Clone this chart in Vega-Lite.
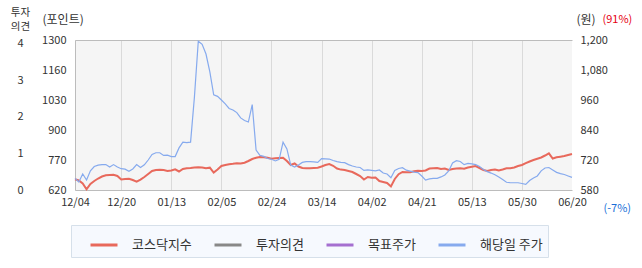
{
  "$schema": "https://vega.github.io/schema/vega-lite/v6.json",
  "autosize": {"type": "none"},
  "width": 497,
  "height": 150,
  "padding": {"left": 75, "top": 40, "right": 70, "bottom": 78},
  "background": "white",
  "config": {
    "font": "Noto Sans CJK KR",
    "view": {"fill": "#f5f5f5", "stroke": null},
    "axis": {
      "labelFont": "Noto Sans CJK KR",
      "labelFontSize": 11,
      "labelColor": "#333333",
      "titleFont": "Noto Sans CJK KR",
      "titleFontSize": 12,
      "titleFontWeight": "normal",
      "titleColor": "#333333",
      "ticks": false,
      "grid": false,
      "domainColor": "#bcbcbc"
    },
    "legend": {
      "labelFont": "Noto Sans CJK KR",
      "labelFontSize": 13,
      "labelColor": "#333333"
    }
  },
  "data": {
    "values": [
      {"date": "12/04", "kosdaq": 668.5, "price": 628},
      {"date": "12/05", "kosdaq": 663.1, "price": 613},
      {"date": "12/06", "kosdaq": 649.5, "price": 646},
      {"date": "12/09", "kosdaq": 623.2, "price": 621},
      {"date": "12/10", "kosdaq": 647.2, "price": 659},
      {"date": "12/11", "kosdaq": 660.8, "price": 677},
      {"date": "12/12", "kosdaq": 672.1, "price": 683},
      {"date": "12/13", "kosdaq": 681.2, "price": 685},
      {"date": "12/16", "kosdaq": 686.6, "price": 685},
      {"date": "12/17", "kosdaq": 688.0, "price": 675},
      {"date": "12/18", "kosdaq": 688.9, "price": 685},
      {"date": "12/19", "kosdaq": 683.5, "price": 675},
      {"date": "12/20", "kosdaq": 667.6, "price": 668},
      {"date": "12/23", "kosdaq": 669.9, "price": 666},
      {"date": "12/24", "kosdaq": 670.5, "price": 657},
      {"date": "12/26", "kosdaq": 665.3, "price": 667},
      {"date": "12/27", "kosdaq": 657.6, "price": 685},
      {"date": "12/30", "kosdaq": 667.0, "price": 673},
      {"date": "01/02", "kosdaq": 678.9, "price": 684},
      {"date": "01/03", "kosdaq": 692.5, "price": 704},
      {"date": "01/06", "kosdaq": 706.1, "price": 727},
      {"date": "01/07", "kosdaq": 710.7, "price": 734},
      {"date": "01/08", "kosdaq": 711.6, "price": 734},
      {"date": "01/09", "kosdaq": 710.2, "price": 723},
      {"date": "01/10", "kosdaq": 706.1, "price": 724},
      {"date": "01/13", "kosdaq": 708.4, "price": 718},
      {"date": "01/14", "kosdaq": 713.8, "price": 718},
      {"date": "01/15", "kosdaq": 703.9, "price": 754},
      {"date": "01/16", "kosdaq": 715.2, "price": 778},
      {"date": "01/17", "kosdaq": 718.8, "price": 776},
      {"date": "01/20", "kosdaq": 719.7, "price": 778},
      {"date": "01/21", "kosdaq": 722.0, "price": 965},
      {"date": "01/22", "kosdaq": 723.4, "price": 1195},
      {"date": "01/23", "kosdaq": 722.0, "price": 1182},
      {"date": "01/24", "kosdaq": 718.4, "price": 1142},
      {"date": "01/31", "kosdaq": 721.1, "price": 1068},
      {"date": "02/03", "kosdaq": 699.3, "price": 973},
      {"date": "02/04", "kosdaq": 712.9, "price": 967},
      {"date": "02/05", "kosdaq": 728.8, "price": 952},
      {"date": "02/06", "kosdaq": 733.3, "price": 936},
      {"date": "02/07", "kosdaq": 736.5, "price": 917},
      {"date": "02/10", "kosdaq": 738.8, "price": 911},
      {"date": "02/11", "kosdaq": 741.5, "price": 900},
      {"date": "02/12", "kosdaq": 740.1, "price": 878},
      {"date": "02/13", "kosdaq": 743.8, "price": 867},
      {"date": "02/14", "kosdaq": 751.5, "price": 861},
      {"date": "02/17", "kosdaq": 760.5, "price": 933},
      {"date": "02/18", "kosdaq": 766.0, "price": 745},
      {"date": "02/19", "kosdaq": 769.6, "price": 723},
      {"date": "02/20", "kosdaq": 768.7, "price": 719},
      {"date": "02/21", "kosdaq": 766.0, "price": 710},
      {"date": "02/24", "kosdaq": 761.9, "price": 707},
      {"date": "02/25", "kosdaq": 763.7, "price": 700},
      {"date": "02/26", "kosdaq": 765.1, "price": 707},
      {"date": "02/27", "kosdaq": 766.4, "price": 778},
      {"date": "02/28", "kosdaq": 751.5, "price": 750},
      {"date": "03/04", "kosdaq": 733.3, "price": 683},
      {"date": "03/05", "kosdaq": 740.1, "price": 675},
      {"date": "03/06", "kosdaq": 726.5, "price": 683},
      {"date": "03/07", "kosdaq": 719.7, "price": 694},
      {"date": "03/10", "kosdaq": 718.4, "price": 697},
      {"date": "03/11", "kosdaq": 718.6, "price": 697},
      {"date": "03/12", "kosdaq": 719.7, "price": 696},
      {"date": "03/13", "kosdaq": 721.1, "price": 694},
      {"date": "03/14", "kosdaq": 726.5, "price": 710},
      {"date": "03/17", "kosdaq": 733.3, "price": 709},
      {"date": "03/18", "kosdaq": 737.9, "price": 708},
      {"date": "03/19", "kosdaq": 729.7, "price": 702},
      {"date": "03/20", "kosdaq": 717.5, "price": 697},
      {"date": "03/21", "kosdaq": 712.5, "price": 694},
      {"date": "03/24", "kosdaq": 710.7, "price": 693},
      {"date": "03/25", "kosdaq": 706.1, "price": 685},
      {"date": "03/26", "kosdaq": 701.6, "price": 679},
      {"date": "03/27", "kosdaq": 692.5, "price": 675},
      {"date": "03/28", "kosdaq": 683.5, "price": 673},
      {"date": "03/31", "kosdaq": 667.6, "price": 661},
      {"date": "04/01", "kosdaq": 678.9, "price": 663},
      {"date": "04/02", "kosdaq": 675.8, "price": 661},
      {"date": "04/03", "kosdaq": 676.7, "price": 659},
      {"date": "04/04", "kosdaq": 660.8, "price": 663},
      {"date": "04/07", "kosdaq": 656.3, "price": 650},
      {"date": "04/08", "kosdaq": 651.7, "price": 646},
      {"date": "04/09", "kosdaq": 635.9, "price": 631},
      {"date": "04/10", "kosdaq": 669.9, "price": 661},
      {"date": "04/11", "kosdaq": 691.6, "price": 669},
      {"date": "04/14", "kosdaq": 701.6, "price": 672},
      {"date": "04/15", "kosdaq": 700.2, "price": 662},
      {"date": "04/16", "kosdaq": 701.0, "price": 658},
      {"date": "04/17", "kosdaq": 705.2, "price": 654},
      {"date": "04/18", "kosdaq": 707.0, "price": 652},
      {"date": "04/21", "kosdaq": 706.1, "price": 638},
      {"date": "04/22", "kosdaq": 708.4, "price": 621},
      {"date": "04/23", "kosdaq": 717.5, "price": 626},
      {"date": "04/24", "kosdaq": 718.8, "price": 628},
      {"date": "04/25", "kosdaq": 719.7, "price": 628},
      {"date": "04/28", "kosdaq": 715.2, "price": 634},
      {"date": "04/29", "kosdaq": 717.5, "price": 642},
      {"date": "04/30", "kosdaq": 710.7, "price": 659},
      {"date": "05/02", "kosdaq": 715.2, "price": 692},
      {"date": "05/07", "kosdaq": 717.0, "price": 701},
      {"date": "05/08", "kosdaq": 718.4, "price": 698},
      {"date": "05/09", "kosdaq": 716.1, "price": 685},
      {"date": "05/12", "kosdaq": 722.0, "price": 690},
      {"date": "05/13", "kosdaq": 725.6, "price": 688},
      {"date": "05/14", "kosdaq": 728.8, "price": 685},
      {"date": "05/15", "kosdaq": 719.7, "price": 677},
      {"date": "05/16", "kosdaq": 710.7, "price": 665},
      {"date": "05/19", "kosdaq": 706.1, "price": 656},
      {"date": "05/20", "kosdaq": 710.7, "price": 650},
      {"date": "05/21", "kosdaq": 712.9, "price": 643},
      {"date": "05/22", "kosdaq": 708.4, "price": 634},
      {"date": "05/23", "kosdaq": 712.9, "price": 623},
      {"date": "05/26", "kosdaq": 718.4, "price": 612},
      {"date": "05/27", "kosdaq": 718.4, "price": 610},
      {"date": "05/28", "kosdaq": 722.0, "price": 610},
      {"date": "05/29", "kosdaq": 728.8, "price": 610},
      {"date": "05/30", "kosdaq": 733.3, "price": 607},
      {"date": "06/02", "kosdaq": 741.5, "price": 603},
      {"date": "06/04", "kosdaq": 749.2, "price": 619},
      {"date": "06/05", "kosdaq": 756.0, "price": 630},
      {"date": "06/09", "kosdaq": 761.9, "price": 638},
      {"date": "06/10", "kosdaq": 767.3, "price": 659},
      {"date": "06/11", "kosdaq": 776.4, "price": 671},
      {"date": "06/12", "kosdaq": 786.4, "price": 673},
      {"date": "06/13", "kosdaq": 762.8, "price": 663},
      {"date": "06/16", "kosdaq": 768.2, "price": 653},
      {"date": "06/17", "kosdaq": 771.0, "price": 648},
      {"date": "06/18", "kosdaq": 774.1, "price": 644},
      {"date": "06/19", "kosdaq": 778.7, "price": 638},
      {"date": "06/20", "kosdaq": 783.2, "price": 632}
    ]
  },
  "layer": [
    {
      "mark": {"type": "line", "strokeWidth": 2},
      "encoding": {
        "x": {
          "field": "date",
          "type": "ordinal",
          "sort": null,
          "scale": {"type": "point", "padding": 0},
          "axis": {
            "values": ["12/04", "12/20", "01/13", "02/05", "02/24", "03/14", "04/02", "04/21", "05/13", "05/30", "06/20"],
            "labelAngle": 0,
            "labelPadding": 6,
            "grid": true,
            "gridColor": "#dadada",
            "gridOpacity": {"condition": {"test": "datum.value == '06/20'", "value": 0}, "value": 1},
            "title": null
          }
        },
        "y": {
          "field": "kosdaq",
          "type": "quantitative",
          "scale": {"domain": [620, 1300], "zero": false, "nice": false},
          "axis": {
            "orient": "left",
            "values": [620, 756, 892, 1028, 1164, 1300],
            "format": "d",
            "labelExpr": "datum.value == 756 ? '770' : datum.value == 892 ? '900' : datum.value == 1028 ? '1030' : datum.value == 1164 ? '1160' : datum.label",
            "labelPadding": 9,
            "title": "(포인트)",
            "titleAngle": 0,
            "titleAlign": "left",
            "titleBaseline": "middle",
            "titleX": -33,
            "titleY": -21
          }
        },
        "color": {
          "datum": "코스닥지수",
          "type": "nominal",
          "scale": {
            "domain": ["코스닥지수", "투자의견", "목표주가", "해당일 주가"],
            "range": ["#e8695c", "#888888", "#a56fd0", "#86aaee"]
          },
          "legend": {
            "title": null,
            "orient": "none",
            "legendX": -4,
            "legendY": 185,
            "direction": "horizontal",
            "symbolType": "stroke",
            "symbolSize": 729,
            "symbolStrokeWidth": 3,
            "symbolOffset": 13,
            "labelOffset": 13,
            "columnPadding": 8,
            "padding": 5,
            "fillColor": "#f6f9fe",
            "strokeColor": "#d6e0ea",
            "labelExpr": "datum.label == '해당일 주가' ? datum.label + '\u2003\u2009' : datum.label"
          }
        }
      }
    },
    {
      "mark": {"type": "line", "strokeWidth": 1.2},
      "encoding": {
        "x": {
          "field": "date",
          "type": "ordinal",
          "sort": null,
          "axis": {"orient": "top", "labels": false, "grid": false, "domain": true, "title": null}
        },
        "y": {
          "field": "price",
          "type": "quantitative",
          "scale": {"domain": [580, 1200], "zero": false, "nice": false},
          "axis": {
            "orient": "right",
            "values": [580, 704, 828, 952, 1076, 1200],
            "labelExpr": "datum.value == 704 ? '720' : datum.value == 828 ? '840' : datum.value == 952 ? '960' : datum.value == 1076 ? '1,080' : datum.label",
            "labelAlign": "left",
            "labelPadding": 8,
            "domain": false,
            "title": "(원)",
            "titleAngle": 0,
            "titleAlign": "left",
            "titleBaseline": "middle",
            "titleX": 4,
            "titleY": -21
          }
        },
        "color": {"datum": "해당일 주가", "type": "nominal"}
      }
    },
    {
      "data": {"values": []},
      "mark": {"type": "rule"},
      "encoding": {
        "y": {
          "field": "opinion",
          "type": "quantitative",
          "scale": {"domain": [0, 4.1], "zero": false, "nice": false},
          "axis": {
            "orient": "left",
            "values": [0, 1, 2, 3, 4],
            "labelAlign": "center",
            "labelPadding": 55,
            "domain": false,
            "title": ["투자", "의견"],
            "titleFontSize": 10.5,
            "titleAngle": 0,
            "titleAlign": "center",
            "titleBaseline": "middle",
            "titleLineHeight": 14,
            "titleX": -55,
            "titleY": -28
          }
        }
      }
    },
    {
      "data": {"values": []},
      "mark": {"type": "rule"},
      "encoding": {
        "y": {
          "field": "change",
          "type": "quantitative",
          "scale": {"domain": [-7.6, 91.1], "zero": false, "nice": false},
          "axis": {
            "orient": "right",
            "labels": false,
            "domain": false,
            "title": "(91%)",
            "titleFontSize": 11,
            "titleColor": "#e60012",
            "titleAngle": 0,
            "titleAlign": "left",
            "titleBaseline": "middle",
            "titleX": 30,
            "titleY": -21
          }
        }
      }
    },
    {
      "data": {"values": []},
      "mark": {"type": "rule"},
      "encoding": {
        "y": {
          "field": "change",
          "type": "quantitative",
          "scale": {"domain": [-7.6, 91.1], "zero": false, "nice": false},
          "axis": {
            "orient": "right",
            "labels": false,
            "domain": false,
            "title": "(-7%)",
            "titleFontSize": 11,
            "titleColor": "#1a6fd8",
            "titleAngle": 0,
            "titleAlign": "left",
            "titleBaseline": "middle",
            "titleX": 31,
            "titleY": 168
          }
        }
      }
    }
  ],
  "resolve": {
    "scale": {"y": "independent"},
    "axis": {"x": "independent", "y": "independent"}
  }
}
